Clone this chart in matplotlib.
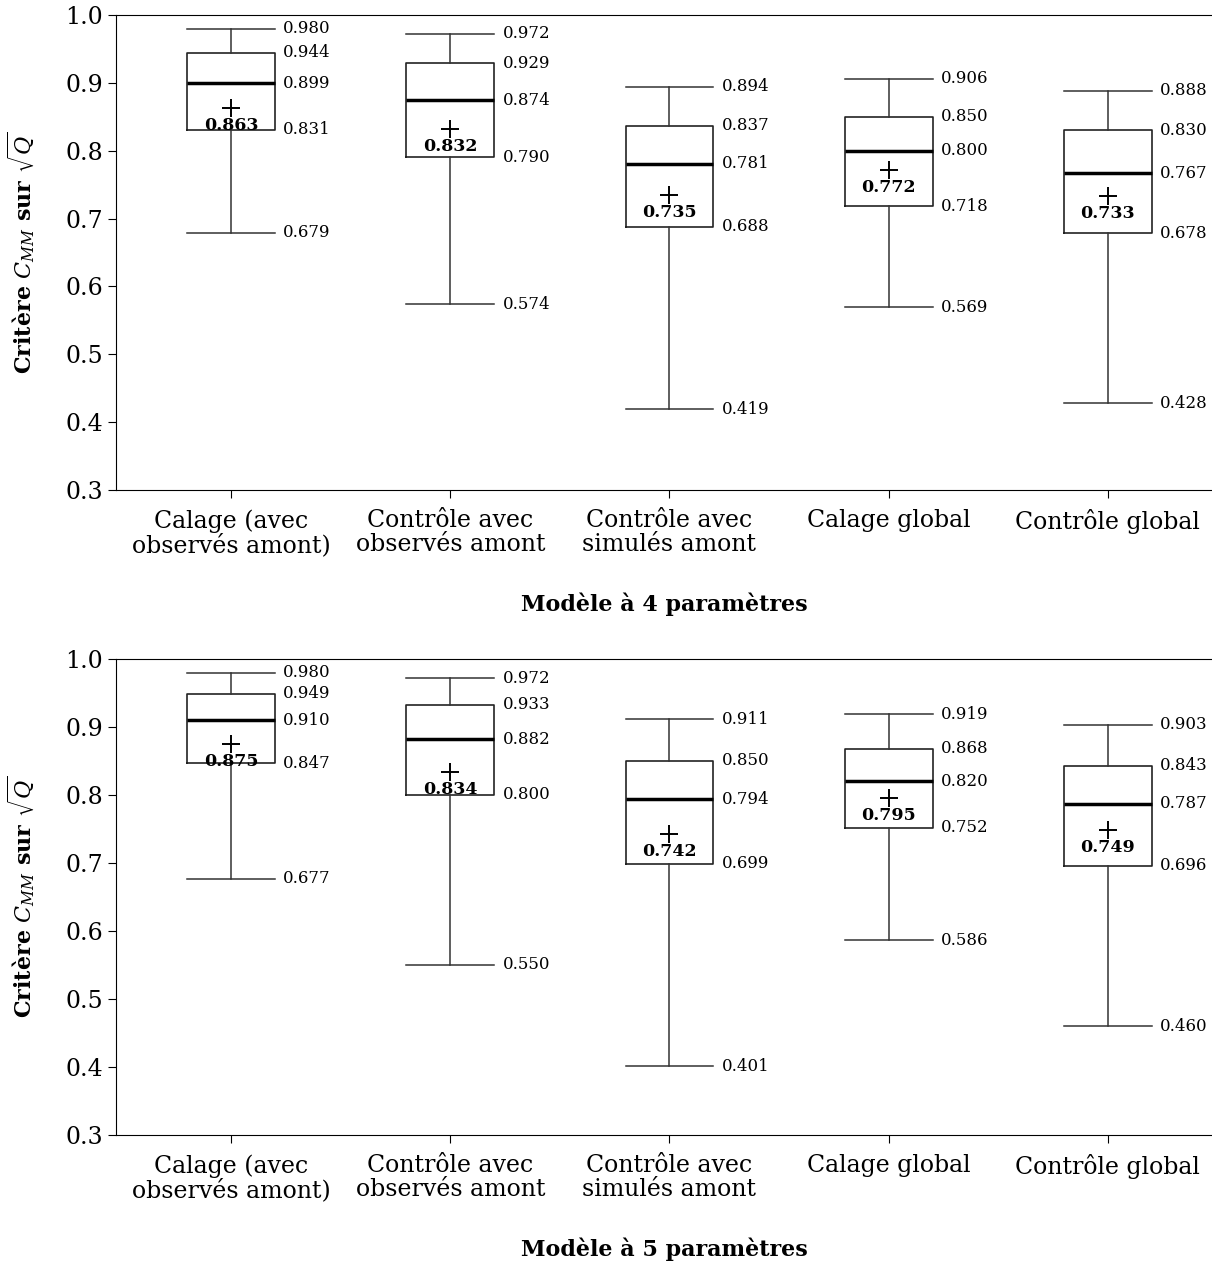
import matplotlib
matplotlib.use("Agg")
import matplotlib.pyplot as plt

plt.rcParams['font.family'] = ['DejaVu Serif']
plt.rcParams['mathtext.fontset'] = 'dejavuserif'

categories = ["Calage (avec\nobservés amont)", "Contrôle avec\nobservés amont",
              "Contrôle avec\nsimulés amont", "Calage global", "Contrôle global"]

# Modèle à 4 paramètres
m4_whislo = [0.679, 0.574, 0.419, 0.569, 0.428]
m4_q1 = [0.831, 0.790, 0.688, 0.718, 0.678]
m4_med = [0.899, 0.874, 0.781, 0.800, 0.767]
m4_q3 = [0.944, 0.929, 0.837, 0.850, 0.830]
m4_whishi = [0.980, 0.972, 0.894, 0.906, 0.888]
m4_mean = [0.863, 0.832, 0.735, 0.772, 0.733]

# Modèle à 5 paramètres
m5_whislo = [0.677, 0.550, 0.401, 0.586, 0.460]
m5_q1 = [0.847, 0.800, 0.699, 0.752, 0.696]
m5_med = [0.910, 0.882, 0.794, 0.820, 0.787]
m5_q3 = [0.949, 0.933, 0.850, 0.868, 0.843]
m5_whishi = [0.980, 0.972, 0.911, 0.919, 0.903]
m5_mean = [0.875, 0.834, 0.742, 0.795, 0.749]

titles = ["Modèle à 4 paramètres", "Modèle à 5 paramètres"]
yticks = [0.3, 0.4, 0.5, 0.6, 0.7, 0.8, 0.9, 1.0]

fig = plt.figure(figsize=(12.12, 12.67), dpi=100)
ax_top = fig.add_axes([0.0957, 0.6133, 0.9043, 0.3749])
ax_bot = fig.add_axes([0.0957, 0.1042, 0.9043, 0.3757])

datasets = [
    (ax_top, m4_whislo, m4_q1, m4_med, m4_q3, m4_whishi, m4_mean, titles[0]),
    (ax_bot, m5_whislo, m5_q1, m5_med, m5_q3, m5_whishi, m5_mean, titles[1]),
]

width = 0.4
for ax, wlo, q1, med, q3, whi, mean, title in datasets:
    stats = []
    for i in range(len(categories)):
        stats.append(dict(whislo=wlo[i], q1=q1[i], med=med[i], q3=q3[i],
                          whishi=whi[i], mean=mean[i], fliers=[]))
    positions = list(range(1, len(categories) + 1))
    ax.bxp(stats, positions=positions, widths=width, showmeans=False,
           showfliers=False, patch_artist=False,
           boxprops=dict(color='#222222', linewidth=1.2),
           whiskerprops=dict(color='#333333', linewidth=1.1),
           capprops=dict(color='#333333', linewidth=1.1),
           medianprops=dict(color='black', linewidth=2.5),
           capwidths=width)
    for i, p in enumerate(positions):
        ax.plot([p], [mean[i]], marker='+', markersize=13, mew=1.4,
                color='black', linestyle='none')
        ax.annotate(f"{mean[i]:.3f}", xy=(p, mean[i]), xytext=(0, -12.5),
                    textcoords='offset points', ha='center', va='center',
                    fontsize=12.5, fontweight='bold')
        for v in (wlo[i], q1[i], med[i], q3[i], whi[i]):
            ax.annotate(f"{v:.3f}", xy=(p + width / 2, v), xytext=(6, 0),
                        textcoords='offset points', ha='left', va='center',
                        fontsize=12)
    ax.set_xlim(0.475, 5.475)
    ax.set_ylim(0.3, 1.0)
    ax.set_yticks(yticks)
    ax.set_yticklabels([f"{t:.1f}" for t in yticks])
    ax.set_xticks(positions)
    ax.set_xticklabels(categories, fontsize=17, linespacing=1.05)
    ax.tick_params(axis='y', labelsize=17, direction='out', length=6)
    ax.tick_params(axis='x', direction='out', length=6, pad=8)
    ax.spines['right'].set_visible(False)
    ax.set_ylabel(r"Critère $C_{MM}$ sur $\sqrt{Q}$", fontsize=16,
                  fontweight='bold', labelpad=20)
    ax.set_xlabel(title, fontsize=16, fontweight='bold', labelpad=25)

fig.savefig("out.png", dpi=100)
